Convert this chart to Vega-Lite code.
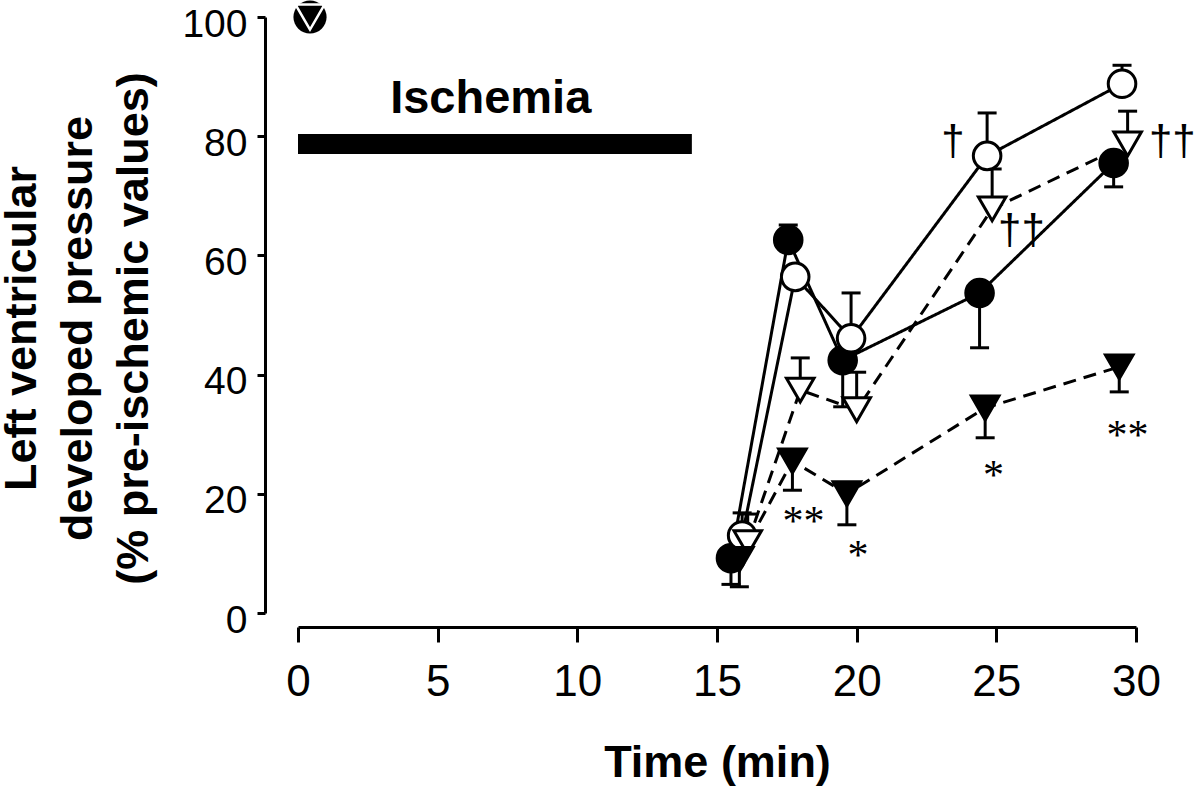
{
  "$schema": "https://vega.github.io/schema/vega-lite/v6.json",
  "width": 838,
  "height": 596,
  "autosize": "none",
  "padding": {"left": 298, "top": 17, "right": 64, "bottom": 175},
  "background": "white",
  "datasets": {
    "series": [
      {"group": "G1", "time": 15.5, "value": 9.2, "err": 4.8},
      {"group": "G1", "time": 17.55, "value": 62.6, "err": 65.1},
      {"group": "G1", "time": 19.5, "value": 42.4, "err": 34.6},
      {"group": "G1", "time": 24.4, "value": 53.7, "err": 44.5},
      {"group": "G1", "time": 29.2, "value": 75.5, "err": 71.5},
      {"group": "G2", "time": 15.9, "value": 13.0, "err": 16.8},
      {"group": "G2", "time": 17.8, "value": 56.4, "err": 56.4},
      {"group": "G2", "time": 19.8, "value": 46.1, "err": 53.7},
      {"group": "G2", "time": 24.67, "value": 76.7, "err": 83.9},
      {"group": "G2", "time": 29.5, "value": 88.8, "err": 91.9},
      {"group": "G3", "time": 16.1, "value": 11.8, "err": 16.6},
      {"group": "G3", "time": 17.98, "value": 37.4, "err": 42.8},
      {"group": "G3", "time": 20.0, "value": 34.1, "err": 40.4},
      {"group": "G3", "time": 24.85, "value": 67.8, "err": 74.5},
      {"group": "G3", "time": 29.7, "value": 78.7, "err": 84.2},
      {"group": "G4", "time": 15.8, "value": 9.0, "err": 4.4},
      {"group": "G4", "time": 17.7, "value": 25.5, "err": 20.6},
      {"group": "G4", "time": 19.65, "value": 20.0, "err": 14.8},
      {"group": "G4", "time": 24.6, "value": 34.4, "err": 29.4},
      {"group": "G4", "time": 29.4, "value": 41.3, "err": 37.1}
    ],
    "bar": [{"time": 0, "time2": 14.1, "value": 78.7}],
    "marker": [{"time": 0.43, "value": 100}],
    "ischemia": [{"time": 6.9, "value": 83.9, "label": "Ischemia"}],
    "daggers": [
      {"time": 23.45, "value": 79.3, "label": "†"},
      {"time": 25.9, "value": 64.4, "label": "††"},
      {"time": 31.3, "value": 79.4, "label": "††"}
    ],
    "stars": [
      {"time": 18.1, "value": 16.8, "label": "**"},
      {"time": 20.05, "value": 11.1, "label": "*"},
      {"time": 24.9, "value": 24.5, "label": "*"},
      {"time": 29.7, "value": 31.2, "label": "**"}
    ]
  },
  "encoding": {
    "x": {
      "field": "time",
      "type": "quantitative",
      "scale": {"domain": [0, 30], "nice": false, "zero": false},
      "axis": {
        "values": [0, 5, 10, 15, 20, 25, 30],
        "offset": 14,
        "tickSize": 15,
        "labelPadding": 18,
        "labelFontSize": 44,
        "labelFlush": false,
        "labelOverlap": false,
        "title": "Time (min)",
        "titleFontSize": 45,
        "titleFontWeight": "bold",
        "titlePadding": 36
      }
    },
    "y": {
      "field": "value",
      "type": "quantitative",
      "scale": {"domain": [0, 100], "nice": false, "zero": false},
      "axis": {
        "values": [0, 20, 40, 60, 80, 100],
        "offset": 33,
        "tickSize": 8,
        "labelPadding": 10,
        "labelOffset": 7,
        "labelFontSize": 39,
        "labelFlush": false,
        "labelOverlap": false,
        "title": ["Left ventricular", "developed pressure", "(% pre-ischemic values)"],
        "titleFontSize": 45,
        "titleFontWeight": "bold",
        "titleLineHeight": 56,
        "titlePadding": 25,
        "titleY": 311
      }
    }
  },
  "layer": [
    {
      "data": {"name": "bar"},
      "mark": {"type": "rule", "strokeWidth": 20, "color": "black", "strokeCap": "butt"},
      "encoding": {"x2": {"field": "time2"}}
    },
    {
      "data": {"name": "ischemia"},
      "mark": {"type": "text", "font": "Liberation Sans", "fontSize": 47, "fontWeight": "bold", "align": "center", "baseline": "alphabetic", "color": "black"},
      "encoding": {"text": {"field": "label"}}
    },
    {
      "data": {"name": "series"},
      "mark": {"type": "line", "strokeWidth": 3, "color": "black"},
      "encoding": {
        "detail": {"field": "group"},
        "strokeDash": {
          "field": "group",
          "type": "nominal",
          "scale": {"domain": ["G1", "G2", "G3", "G4"], "range": [[1, 0], [1, 0], [13, 8], [13, 8]]},
          "legend": null
        }
      }
    },
    {
      "data": {"name": "series"},
      "mark": {"type": "rule", "strokeWidth": 3, "color": "black"},
      "encoding": {"y2": {"field": "err"}}
    },
    {
      "data": {"name": "series"},
      "mark": {"type": "tick", "orient": "horizontal", "size": 19, "thickness": 3, "color": "black", "opacity": 1},
      "encoding": {"y": {"field": "err", "type": "quantitative"}}
    },
    {
      "data": {"name": "series"},
      "mark": {"type": "point", "filled": true, "stroke": "black", "strokeWidth": 3, "opacity": 1, "size": 760},
      "encoding": {
        "shape": {
          "field": "group",
          "type": "nominal",
          "scale": {"domain": ["G1", "G2", "G3", "G4"], "range": ["circle", "circle", "triangle-down", "triangle-down"]},
          "legend": null
        },
        "fill": {
          "field": "group",
          "type": "nominal",
          "scale": {"domain": ["G1", "G2", "G3", "G4"], "range": ["black", "white", "white", "black"]},
          "legend": null
        }
      }
    },
    {
      "data": {"name": "marker"},
      "mark": {"type": "point", "shape": "circle", "filled": true, "color": "black", "opacity": 1, "size": 1100}
    },
    {
      "data": {"name": "marker"},
      "mark": {"type": "point", "shape": "triangle-down", "filled": false, "stroke": "white", "strokeWidth": 2.5, "opacity": 1, "size": 850}
    },
    {
      "data": {"name": "daggers"},
      "mark": {"type": "text", "font": "Liberation Sans", "fontSize": 42, "align": "center", "baseline": "middle", "dy": 2, "color": "black"},
      "encoding": {"text": {"field": "label"}}
    },
    {
      "data": {"name": "stars"},
      "mark": {"type": "text", "font": "Liberation Serif", "fontSize": 42, "align": "center", "baseline": "middle", "dy": 9, "color": "black"},
      "encoding": {"text": {"field": "label"}}
    }
  ],
  "config": {
    "view": {"stroke": null},
    "axis": {
      "grid": false,
      "domainColor": "black",
      "domainWidth": 3,
      "tickColor": "black",
      "tickWidth": 3,
      "labelColor": "black",
      "titleColor": "black",
      "labelFont": "Liberation Sans",
      "titleFont": "Liberation Sans"
    }
  }
}
